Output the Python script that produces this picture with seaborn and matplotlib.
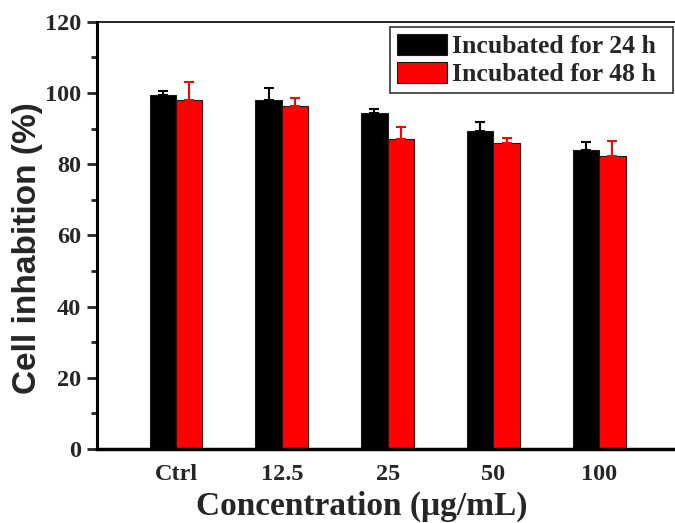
import matplotlib
matplotlib.use("Agg")
import matplotlib.pyplot as plt
from matplotlib.ticker import MultipleLocator
import seaborn as sns
import pandas as pd
import numpy as np

categories = ["Ctrl", "12.5", "25", "50", "100"]
series_names = ["Incubated for 24 h", "Incubated for 48 h"]
values_24h = [99.4, 98.1, 94.3, 89.4, 84.0]
values_48h = [98.0, 96.2, 87.0, 86.0, 82.3]
err_24h = [1.0, 3.4, 1.3, 2.3, 2.1]
err_48h = [5.1, 2.5, 3.5, 1.4, 4.2]
y_ticks = [0, 20, 40, 60, 80, 100, 120]

df = pd.DataFrame({
    "Concentration": categories * 2,
    "Series": [series_names[0]] * 5 + [series_names[1]] * 5,
    "Value": values_24h + values_48h,
})

sns.set_style("white")
serif = ["Liberation Serif", "DejaVu Serif"]
plt.rcParams["font.family"] = serif

fig = plt.figure(figsize=(6.75, 5.23), dpi=100)
ax = fig.add_axes([97 / 675, 1 - 449 / 523, 580 / 675, 427.3 / 523])

sns.barplot(data=df, x="Concentration", y="Value", hue="Series",
            order=categories, hue_order=series_names,
            palette=["#000000", "#ff0000"], width=0.5, saturation=1,
            edgecolor="#1a1a1a", linewidth=0.8, errorbar=None, ax=ax)

colors = ["#000000", "#ff0000"]
errs = [err_24h, err_48h]
for cont, col, e in zip(ax.containers, colors, errs):
    xs = [b.get_x() + b.get_width() / 2 for b in cont]
    hs = [b.get_height() for b in cont]
    ax.errorbar(xs, hs, yerr=[np.zeros(len(e)), e], fmt="none", ecolor=col,
                elinewidth=1.5, capsize=3.3, capthick=1.5, zorder=1)

ax.set_xlim(-0.747, 4.735)
ax.set_ylim(0, 120)
ax.set_yticks(y_ticks)
ax.yaxis.set_minor_locator(MultipleLocator(10))
ax.tick_params(axis="y", which="major", direction="out", length=7, width=2,
               left=True, labelsize=17.5, pad=4.5)
ax.tick_params(axis="y", which="minor", direction="out", length=4.5, width=2, left=True)
ax.tick_params(axis="x", which="both", length=0, labelsize=17.5, pad=11)
for lab in ax.get_xticklabels() + ax.get_yticklabels():
    lab.set_fontweight("bold")
    lab.set_family(serif)

for side, lw in [("left", 2.2), ("bottom", 2.5), ("top", 1.2), ("right", 1.2)]:
    ax.spines[side].set_visible(True)
    ax.spines[side].set_color("black")
    ax.spines[side].set_linewidth(lw)

ax.set_xlabel("Concentration (μg/mL)", fontsize=24, fontweight="bold", family=serif)
ax.xaxis.set_label_coords(0.457, -0.097)
ax.set_ylabel("Cell inhabition (%)", fontsize=24, fontweight="bold",
              family=["Liberation Sans", "DejaVu Sans"])
ax.yaxis.set_label_coords(-0.093, 0.47)

leg = ax.legend(loc="upper left", bbox_to_anchor=(0.505, 0.834, 0.4874, 0.154),
                mode="expand", borderaxespad=0,
                frameon=True, fancybox=False, edgecolor="black",
                prop={"family": serif, "weight": "bold", "size": 18.5},
                handlelength=1.95, handleheight=0.9, handletextpad=0.2,
                labelspacing=0.15, borderpad=0.26)
leg.get_frame().set_linewidth(1.2)
leg.set_title(None)

fig.savefig("out.png", dpi=100)
